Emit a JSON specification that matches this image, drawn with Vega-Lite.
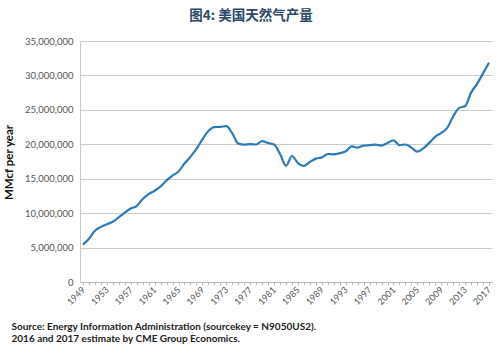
{
  "$schema": "https://vega.github.io/schema/vega-lite/v6.json",
  "autosize": {"type": "none"},
  "width": 412,
  "height": 241,
  "padding": {"left": 80, "top": 41, "right": 8, "bottom": 72},
  "background": "white",
  "title": {
    "text": "图4: 美国天然气产量",
    "font": "Noto Sans CJK SC",
    "fontSize": 13.5,
    "fontWeight": "bold",
    "color": "#2b4868",
    "anchor": "middle",
    "dx": -35,
    "offset": 14
  },
  "config": {
    "view": {"stroke": null},
    "font": "Lato"
  },
  "data": {
    "values": [
      {"year": 1949, "mmcf": 5420000},
      {"year": 1950, "mmcf": 6280000},
      {"year": 1951, "mmcf": 7450000},
      {"year": 1952, "mmcf": 8010000},
      {"year": 1953, "mmcf": 8400000},
      {"year": 1954, "mmcf": 8740000},
      {"year": 1955, "mmcf": 9400000},
      {"year": 1956, "mmcf": 10080000},
      {"year": 1957, "mmcf": 10680000},
      {"year": 1958, "mmcf": 11030000},
      {"year": 1959, "mmcf": 12050000},
      {"year": 1960, "mmcf": 12770000},
      {"year": 1961, "mmcf": 13250000},
      {"year": 1962, "mmcf": 13880000},
      {"year": 1963, "mmcf": 14750000},
      {"year": 1964, "mmcf": 15460000},
      {"year": 1965, "mmcf": 16040000},
      {"year": 1966, "mmcf": 17210000},
      {"year": 1967, "mmcf": 18170000},
      {"year": 1968, "mmcf": 19320000},
      {"year": 1969, "mmcf": 20700000},
      {"year": 1970, "mmcf": 21920000},
      {"year": 1971, "mmcf": 22490000},
      {"year": 1972, "mmcf": 22530000},
      {"year": 1973, "mmcf": 22650000},
      {"year": 1974, "mmcf": 21600000},
      {"year": 1975, "mmcf": 20110000},
      {"year": 1976, "mmcf": 19950000},
      {"year": 1977, "mmcf": 20030000},
      {"year": 1978, "mmcf": 19970000},
      {"year": 1979, "mmcf": 20470000},
      {"year": 1980, "mmcf": 20180000},
      {"year": 1981, "mmcf": 19960000},
      {"year": 1982, "mmcf": 18580000},
      {"year": 1983, "mmcf": 16880000},
      {"year": 1984, "mmcf": 18300000},
      {"year": 1985, "mmcf": 17270000},
      {"year": 1986, "mmcf": 16860000},
      {"year": 1987, "mmcf": 17430000},
      {"year": 1988, "mmcf": 17920000},
      {"year": 1989, "mmcf": 18100000},
      {"year": 1990, "mmcf": 18590000},
      {"year": 1991, "mmcf": 18530000},
      {"year": 1992, "mmcf": 18710000},
      {"year": 1993, "mmcf": 18980000},
      {"year": 1994, "mmcf": 19710000},
      {"year": 1995, "mmcf": 19510000},
      {"year": 1996, "mmcf": 19810000},
      {"year": 1997, "mmcf": 19870000},
      {"year": 1998, "mmcf": 19960000},
      {"year": 1999, "mmcf": 19810000},
      {"year": 2000, "mmcf": 20200000},
      {"year": 2001, "mmcf": 20570000},
      {"year": 2002, "mmcf": 19890000},
      {"year": 2003, "mmcf": 19970000},
      {"year": 2004, "mmcf": 19520000},
      {"year": 2005, "mmcf": 18930000},
      {"year": 2006, "mmcf": 19410000},
      {"year": 2007, "mmcf": 20200000},
      {"year": 2008, "mmcf": 21110000},
      {"year": 2009, "mmcf": 21650000},
      {"year": 2010, "mmcf": 22380000},
      {"year": 2011, "mmcf": 24040000},
      {"year": 2012, "mmcf": 25280000},
      {"year": 2013, "mmcf": 25560000},
      {"year": 2014, "mmcf": 27500000},
      {"year": 2015, "mmcf": 28770000},
      {"year": 2016, "mmcf": 30300000},
      {"year": 2017, "mmcf": 31850000}
    ]
  },
  "mark": {"type": "line", "color": "#2b7bba", "strokeWidth": 2.2, "interpolate": "monotone"},
  "encoding": {
    "x": {
      "field": "year",
      "type": "ordinal",
      "sort": "ascending",
      "scale": {"paddingInner": 0, "paddingOuter": 0},
      "axis": {
        "title": ["Source:  Energy Information Administration (sourcekey = N9050US2).", "2016 and 2017 estimate by CME Group Economics."],
        "titleFont": "Lato",
        "titleFontSize": 10,
        "titleFontWeight": "bold",
        "titleColor": "#222222",
        "titleAnchor": "start",
        "titleAlign": "left",
        "titleBaseline": "middle",
        "titleLineHeight": 12,
        "titleX": -69,
        "titleY": 44,
        "labelExpr": "(datum.value - 1949) % 4 == 0 ? datum.value : ''",
        "labelAngle": -45,
        "labelAlign": "right",
        "labelBaseline": "middle",
        "labelFontSize": 9,
        "labelColor": "#555555",
        "labelPadding": 3,
        "labelOverlap": false,
        "tickColor": "#bbbbbb",
        "tickSize": 3,
        "domainColor": "#bbbbbb",
        "grid": false
      }
    },
    "y": {
      "field": "mmcf",
      "type": "quantitative",
      "scale": {"domain": [0, 35000000]},
      "axis": {
        "title": "MMcf per year",
        "titleFont": "Lato",
        "titleFontSize": 11.5,
        "titleFontWeight": "bold",
        "titleColor": "#111111",
        "titleBaseline": "middle",
        "titleX": -71,
        "titleY": 121,
        "values": [0, 5000000, 10000000, 15000000, 20000000, 25000000, 30000000, 35000000],
        "format": ",d",
        "labelFontSize": 9.5,
        "labelColor": "#555555",
        "labelPadding": 7,
        "ticks": false,
        "domain": true,
        "domainColor": "#cccccc",
        "gridColor": "#cccccc",
        "gridWidth": 1
      }
    }
  }
}
